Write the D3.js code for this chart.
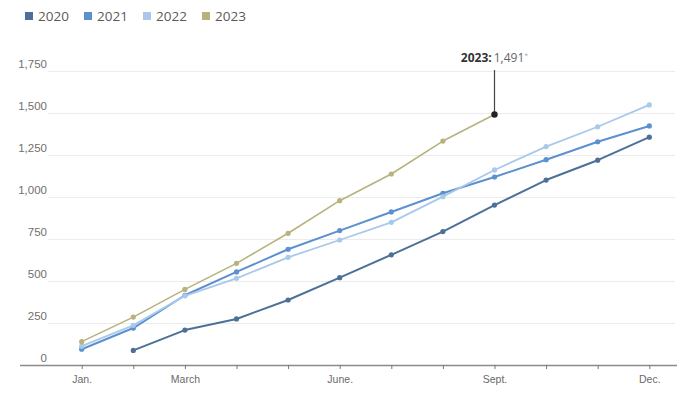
<!DOCTYPE html>
<html>
<head>
<meta charset="utf-8">
<script src="https://cdn.jsdelivr.net/npm/d3@7"></script>
<style>
  body { margin: 0; background: #fff; }
  svg { font-family: "Open Sans", "Noto Sans", sans-serif; }
</style>
</head>
<body>
<div id="chart"></div>
<script>
// data
var months = ["Jan", "Feb", "Mar", "Apr", "May", "Jun", "Jul", "Aug", "Sep", "Oct", "Nov", "Dec"];
var tickLabels = {"Jan": "Jan.", "Mar": "March", "Jun": "June.", "Sep": "Sept.", "Dec": "Dec."};
var years = ["2020", "2021", "2022", "2023"];
var colors = ["#4d7099", "#5c90cf", "#a9c9ea", "#b8b27e"];

var v2020 = [null, 87, 208, 274, 387, 520, 656, 794, 952, 1101, 1219, 1356];
var v2021 = [94, 220, 415, 554, 689, 800, 911, 1022, 1119, 1222, 1329, 1423];
var v2022 = [112, 236, 412, 516, 641, 744, 849, 1002, 1161, 1300, 1418, 1548];
var v2023 = [139, 285, 450, 605, 784, 978, 1137, 1333, 1491];
var yTicks = [0, 250, 500, 750, 1000, 1250, 1500, 1750];

var seriesValues = [v2020, v2021, v2022, v2023];

var width = 700, height = 394;

var svg = d3.select("#chart")
  .append("svg")
    .attr("width", width)
    .attr("height", height);

var x = d3.scalePoint()
  .domain(months)
  .range([81.7, 649.3]);

var y = d3.scaleLinear()
  .domain([0, 1750])
  .range([365, 71]);

// gridlines + y labels
var yAxis = svg.append("g")
  .attr("transform", "translate(48,0)")
  .call(d3.axisLeft(y).tickValues(yTicks).tickSize(-627)
        .tickFormat(function(d) { return d === 0 ? "0" : d3.format(",")(d); }));
yAxis.select(".domain").remove();
yAxis.selectAll(".tick line")
  .attr("stroke", "#ececec")
  .attr("stroke-width", 1)
  .attr("display", function(d) { return d === 0 ? "none" : null; });
yAxis.selectAll(".tick text")
  .attr("x", -1)
  .attr("dy", -4)
  .attr("fill", "#707070")
  .attr("font-size", "11.5px");

// x axis
var xAxis = svg.append("g")
  .attr("transform", "translate(0,365)")
  .call(d3.axisBottom(x).tickSize(4).tickPadding(7)
        .tickFormat(function(d) { return tickLabels[d] || ""; }));
xAxis.select(".domain")
  .attr("d", "M20,0.5H677")
  .attr("stroke", "#8a8a8a")
  .attr("stroke-width", 1.5);
xAxis.selectAll(".tick line").attr("stroke", "#777");
xAxis.selectAll(".tick text")
  .attr("fill", "#6a6a6a")
  .attr("font-size", "10.5px");

var line = d3.line()
  .defined(function(d) { return d.v != null; })
  .x(function(d) { return x(d.m); })
  .y(function(d) { return y(d.v); });

var widths = [2, 2, 1.8, 1.6];

years.forEach(function(yr, i) {
  var pts = seriesValues[i].map(function(v, j) { return {m: months[j], v: v}; });
  var g = svg.append("g");
  g.append("path")
    .datum(pts)
    .attr("fill", "none")
    .attr("stroke", colors[i])
    .attr("stroke-width", widths[i])
    .attr("stroke-linejoin", "round")
    .attr("d", line);
  g.selectAll("circle")
    .data(pts.filter(function(d) { return d.v != null; }))
    .enter()
    .append("circle")
    .attr("cx", function(d) { return x(d.m); })
    .attr("cy", function(d) { return y(d.v); })
    .attr("r", 2.6)
    .attr("fill", colors[i]);
});

// annotation on the last 2023 point
var last = v2023.length - 1;
var ax = x(months[last]), ay = y(v2023[last]);
svg.append("line")
  .attr("x1", ax).attr("x2", ax)
  .attr("y1", ay).attr("y2", 70)
  .attr("stroke", "#444")
  .attr("stroke-width", 1.2);
svg.append("circle")
  .attr("cx", ax).attr("cy", ay)
  .attr("r", 3.2)
  .attr("fill", "#222");
var note = svg.append("text")
  .attr("x", ax)
  .attr("y", 62)
  .attr("text-anchor", "middle")
  .attr("font-size", "12px");
note.append("tspan")
  .attr("font-weight", "bold")
  .attr("fill", "#333")
  .text("2023:");
note.append("tspan")
  .attr("fill", "#666")
  .attr("dx", 2)
  .text(d3.format(",")(v2023[last]));
note.append("tspan")
  .attr("fill", "#aaa")
  .attr("font-size", "7px")
  .attr("dy", -4)
  .text("*");

// legend
var legX = [25, 84, 143, 202];
var legend = svg.append("g");
years.forEach(function(yr, i) {
  legend.append("rect")
    .attr("x", legX[i]).attr("y", 12)
    .attr("width", 8).attr("height", 8)
    .attr("fill", colors[i]);
  legend.append("text")
    .attr("x", legX[i] + 13).attr("y", 21)
    .attr("fill", "#5a5a5a")
    .attr("font-size", "13.5px")
    .text(yr);
});
</script>
</body>
</html>
